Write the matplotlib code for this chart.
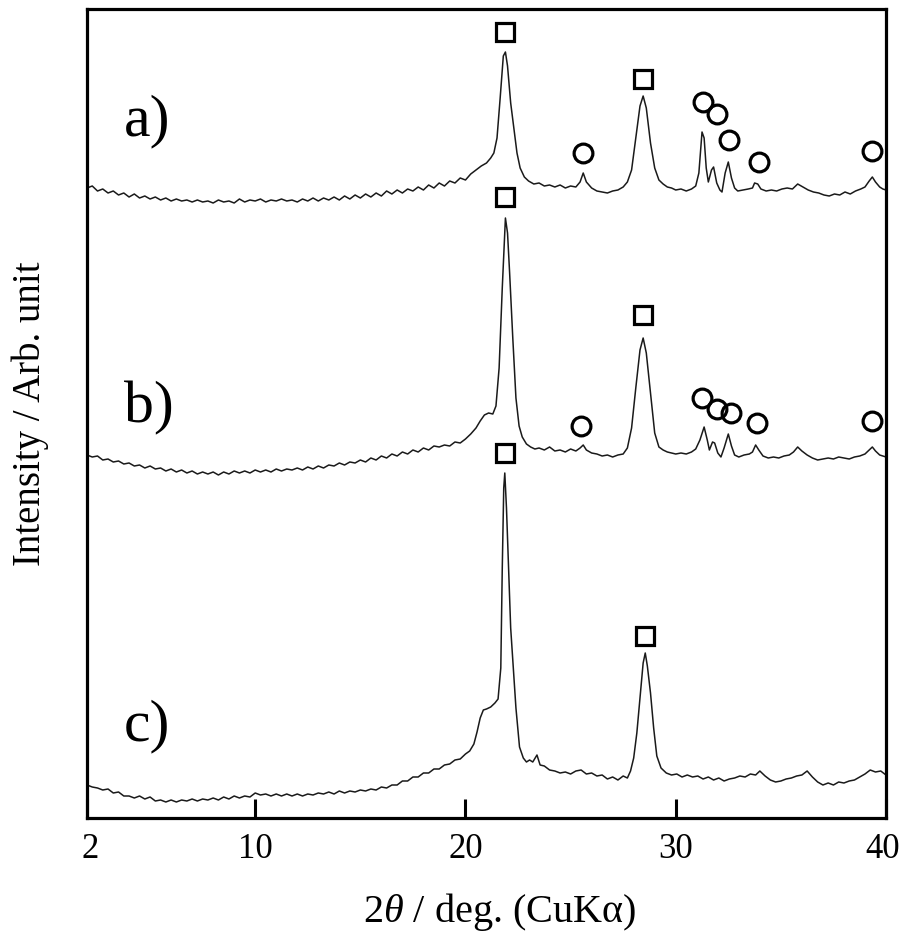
import matplotlib
matplotlib.use("Agg")
import matplotlib.pyplot as plt
from matplotlib.transforms import ScaledTranslation

# ---------------- data ----------------
a_deg = [2.00, 2.25, 2.50, 2.75, 3.00, 3.25, 3.50, 3.75, 4.00, 4.25, 4.50, 4.75,
         5.00, 5.25, 5.50, 5.75, 6.00, 6.25, 6.50, 6.75, 7.00, 7.25, 7.50, 7.75,
         8.00, 8.25, 8.50, 8.75, 9.00, 9.25, 9.50, 9.75, 10.00, 10.25, 10.50, 10.75,
         11.00, 11.25, 11.50, 11.75, 12.00, 12.25, 12.50, 12.75, 13.00, 13.25, 13.50, 13.75,
         14.00, 14.25, 14.50, 14.75, 15.00, 15.25, 15.50, 15.75, 16.00, 16.25, 16.50, 16.75,
         17.00, 17.25, 17.50, 17.75, 18.00, 18.25, 18.50, 18.75, 19.00, 19.25, 19.50, 19.75,
         20.00, 20.25, 20.50, 20.75, 21.00, 21.20, 21.35, 21.50, 21.65, 21.80, 21.90, 22.00,
         22.15, 22.30, 22.45, 22.60, 22.80, 23.00, 23.25, 23.50, 23.75, 24.00, 24.25, 24.50,
         24.75, 25.00, 25.25, 25.45, 25.60, 25.75, 26.00, 26.25, 26.50, 26.75, 27.00, 27.25,
         27.50, 27.70, 27.90, 28.10, 28.30, 28.45, 28.60, 28.80, 29.00, 29.20, 29.40, 29.60,
         29.80, 30.00, 30.25, 30.50, 30.75, 30.95, 31.10, 31.25, 31.35, 31.45, 31.55, 31.70,
         31.80, 31.95, 32.10, 32.20, 32.35, 32.50, 32.65, 32.80, 32.95, 33.20, 33.45, 33.65,
         33.75, 33.90, 34.05, 34.30, 34.55, 34.80, 35.05, 35.30, 35.55, 35.80, 36.05, 36.30,
         36.55, 36.80, 37.05, 37.30, 37.55, 37.80, 38.05, 38.30, 38.55, 38.80, 39.00, 39.20,
         39.35, 39.50, 39.70, 39.85, 40.00]
a_int = [630, 632, 627, 629, 625, 627, 623, 625, 621, 624, 620, 622,
         619, 621, 618, 620, 617, 619, 617, 618, 616, 618, 616, 617,
         615, 618, 616, 617, 615, 619, 616, 618, 617, 619, 616, 618,
         617, 619, 617, 618, 616, 619, 617, 620, 617, 620, 618, 621,
         618, 622, 619, 623, 620, 624, 621, 625, 622, 627, 624, 628,
         625, 629, 627, 631, 628, 633, 630, 635, 632, 637, 635, 640,
         638, 644, 648, 652, 655, 660, 665, 680, 720, 762, 766, 752,
         715, 690, 665, 650, 641, 637, 634, 635, 632, 633, 631, 633,
         630, 632, 631, 636, 645, 636, 630, 627, 626, 625, 627, 628,
         631, 636, 648, 680, 712, 722, 710, 675, 650, 638, 634, 631,
         630, 628, 629, 627, 629, 632, 645, 686, 680, 650, 636, 648,
         651, 635, 628, 626, 645, 656, 640, 630, 627, 628, 629, 630,
         635, 634, 629, 627, 628, 627, 629, 630, 629, 634, 631, 628,
         626, 625, 623, 622, 624, 623, 626, 624, 627, 629, 631, 637,
         641, 636, 631, 629, 628]

b_deg = [2.00, 2.25, 2.50, 2.75, 3.00, 3.25, 3.50, 3.75, 4.00, 4.25, 4.50, 4.75,
         5.00, 5.25, 5.50, 5.75, 6.00, 6.25, 6.50, 6.75, 7.00, 7.25, 7.50, 7.75,
         8.00, 8.25, 8.50, 8.75, 9.00, 9.25, 9.50, 9.75, 10.00, 10.25, 10.50, 10.75,
         11.00, 11.25, 11.50, 11.75, 12.00, 12.25, 12.50, 12.75, 13.00, 13.25, 13.50, 13.75,
         14.00, 14.25, 14.50, 14.75, 15.00, 15.25, 15.50, 15.75, 16.00, 16.25, 16.50, 16.75,
         17.00, 17.25, 17.50, 17.75, 18.00, 18.25, 18.50, 18.75, 19.00, 19.25, 19.50, 19.75,
         20.00, 20.25, 20.50, 20.70, 20.90, 21.10, 21.30, 21.45, 21.60, 21.75, 21.90, 22.00,
         22.10, 22.25, 22.40, 22.55, 22.70, 22.90, 23.10, 23.30, 23.50, 23.75, 24.00, 24.25,
         24.50, 24.75, 25.00, 25.25, 25.45, 25.60, 25.75, 26.00, 26.25, 26.50, 26.75, 27.00,
         27.25, 27.50, 27.70, 27.90, 28.10, 28.30, 28.45, 28.60, 28.80, 29.00, 29.20, 29.40,
         29.60, 29.80, 30.00, 30.25, 30.50, 30.75, 30.95, 31.15, 31.35, 31.50, 31.60, 31.75,
         31.85, 32.00, 32.15, 32.30, 32.50, 32.65, 32.80, 33.00, 33.25, 33.50, 33.65, 33.80,
         33.95, 34.15, 34.40, 34.65, 34.90, 35.15, 35.40, 35.60, 35.80, 36.00, 36.25, 36.50,
         36.75, 37.00, 37.25, 37.50, 37.75, 38.00, 38.25, 38.50, 38.75, 39.00, 39.20, 39.35,
         39.50, 39.70, 39.85, 40.00]
b_int = [363, 361, 362, 358, 359, 356, 357, 354, 355, 352, 353, 350,
         352, 349, 350, 347, 349, 346, 348, 345, 347, 344, 346, 344,
         346, 343, 346, 344, 347, 345, 347, 345, 348, 346, 348, 346,
         349, 347, 349, 348, 350, 348, 351, 349, 352, 350, 353, 352,
         355, 353, 356, 355, 358, 356, 360, 358, 362, 360, 364, 362,
         366, 364, 368, 366, 370, 368, 372, 371, 373, 372, 376, 375,
         379, 384, 390, 397, 403, 405, 404, 412, 450, 530, 600, 585,
         545, 480, 420, 392, 381, 374, 371, 369, 370, 368, 371, 367,
         368, 366, 369, 367, 370, 373, 368, 365, 364, 362, 363, 361,
         363, 364, 370, 390, 430, 468, 480, 465, 425, 385, 371, 368,
         366, 365, 364, 365, 364, 366, 369, 378, 391, 378, 368, 376,
         375, 365, 361, 370, 384, 372, 363, 361, 363, 364, 366, 373,
         368, 362, 360, 361, 360, 362, 363, 366, 371, 367, 363, 360,
         358, 359, 360, 359, 361, 360, 359, 361, 362, 364, 368, 371,
         367, 363, 362, 361]

c_deg = [2.00, 2.25, 2.50, 2.75, 3.00, 3.25, 3.50, 3.75, 4.00, 4.25, 4.50, 4.75,
         5.00, 5.25, 5.50, 5.75, 6.00, 6.25, 6.50, 6.75, 7.00, 7.25, 7.50, 7.75,
         8.00, 8.25, 8.50, 8.75, 9.00, 9.25, 9.50, 9.75, 10.00, 10.25, 10.50, 10.75,
         11.00, 11.25, 11.50, 11.75, 12.00, 12.25, 12.50, 12.75, 13.00, 13.25, 13.50, 13.75,
         14.00, 14.25, 14.50, 14.75, 15.00, 15.25, 15.50, 15.75, 16.00, 16.25, 16.50, 16.75,
         17.00, 17.25, 17.50, 17.75, 18.00, 18.25, 18.50, 18.75, 19.00, 19.25, 19.50, 19.75,
         20.00, 20.20, 20.40, 20.55, 20.70, 20.85, 21.00, 21.20, 21.40, 21.55, 21.68, 21.75,
         21.82, 21.87, 21.95, 22.05, 22.15, 22.25, 22.40, 22.57, 22.75, 22.90, 23.05, 23.20,
         23.40, 23.55, 23.75, 24.00, 24.25, 24.50, 24.75, 25.00, 25.25, 25.50, 25.75, 26.00,
         26.25, 26.50, 26.75, 27.00, 27.25, 27.50, 27.70, 27.85, 28.00, 28.15, 28.30, 28.45,
         28.55, 28.65, 28.80, 28.95, 29.10, 29.30, 29.55, 29.80, 30.05, 30.30, 30.55, 30.80,
         31.05, 31.30, 31.55, 31.80, 32.05, 32.30, 32.55, 32.80, 33.05, 33.30, 33.55, 33.80,
         34.00, 34.25, 34.50, 34.75, 35.00, 35.25, 35.50, 35.75, 36.00, 36.25, 36.50, 36.75,
         37.00, 37.25, 37.50, 37.75, 38.00, 38.25, 38.50, 38.75, 39.00, 39.25, 39.50, 39.75,
         40.00]
c_int = [33, 31, 30, 28, 29, 25, 26, 22, 22, 20, 22, 19,
         21, 17, 18, 16, 18, 16, 18, 17, 19, 17, 19, 18,
         20, 18, 21, 19, 22, 20, 22, 21, 25, 23, 24, 22,
         24, 22, 24, 22, 24, 22, 24, 23, 25, 24, 26, 24,
         27, 25, 27, 26, 28, 27, 29, 28, 31, 30, 33, 33,
         37, 37, 41, 41, 45, 45, 49, 49, 53, 54, 58, 59,
         64, 67, 74, 86, 100, 108, 109, 111, 115, 119, 150, 250,
         330, 345, 310, 250, 190, 158, 110, 71, 60, 56, 58, 56,
         63, 53, 52, 48, 47, 45, 46, 44, 47, 48, 44, 45,
         42, 43, 39, 41, 38, 42, 40, 47, 60, 85, 120, 155,
         165, 152, 125, 90, 62, 50, 45, 43, 44, 41, 43, 41,
         42, 39, 41, 38, 40, 37, 39, 40, 42, 41, 44, 43,
         47, 42, 38, 36, 37, 39, 40, 42, 43, 47, 41, 36,
         33, 35, 33, 36, 35, 37, 38, 41, 44, 48, 46, 47,
         43]

# peak markers (square / circle) per pattern
sq_a_x = [21.9, 28.45]
sq_a_y = [786, 739]
ci_a_x = [25.6, 31.3, 31.95, 32.55, 33.95, 39.35]
ci_a_y = [665, 716, 704, 678, 656, 667]
sq_b_x = [21.9, 28.45]
sq_b_y = [621, 503]
ci_b_x = [25.5, 31.25, 31.95, 32.65, 33.85, 39.35]
ci_b_y = [392, 420, 409, 405, 395, 397]
sq_c_x = [21.9, 28.55]
sq_c_y = [365, 182]

labels = ["a)", "b)", "c)"]
label_y = [683, 396, 78]
xticks = [2, 10, 20, 30, 40]
xlabel = r"2$\theta$ / deg. (CuKα)"
ylabel = "Intensity / Arb. unit"

# ---------------- figure ----------------
plt.rcParams["font.family"] = ["Liberation Serif", "DejaVu Serif"]
plt.rcParams["mathtext.fontset"] = "custom"
plt.rcParams["mathtext.rm"] = "Liberation Serif"
plt.rcParams["mathtext.it"] = "Liberation Serif:italic"

fig = plt.figure(figsize=(9.01, 9.43), dpi=100)
ax = fig.add_axes([87 / 901, 1 - 818 / 943, 799 / 901, 809 / 943])

line_kw = dict(color="#1a1a1a", lw=1.1)
ax.plot(a_deg, a_int, **line_kw)
ax.plot(b_deg, b_int, **line_kw)
ax.plot(c_deg, c_int, **line_kw)

sq_kw = dict(ls="none", marker="s", ms=13, mfc="white", mec="black", mew=2.3, zorder=5)
ci_kw = dict(ls="none", marker="o", ms=13.5, mfc="none", mec="black", mew=2.3, zorder=5)
ax.plot(sq_a_x, sq_a_y, **sq_kw)
ax.plot(sq_b_x, sq_b_y, **sq_kw)
ax.plot(sq_c_x, sq_c_y, **sq_kw)
ax.plot(ci_a_x, ci_a_y, **ci_kw)
ax.plot(ci_b_x, ci_b_y, **ci_kw)

for lab, ly in zip(labels, label_y):
    ax.text(3.75, ly, lab, fontsize=43, ha="left", va="baseline")

ax.set_xlim(2, 40)
ax.set_ylim(0, 809)
ax.set_xticks(xticks)
ax.set_xticklabels([str(t) for t in xticks])
ax.set_yticks([])
ax.tick_params(axis="x", direction="in", length=14, width=2.2, pad=11, labelsize=25)
for sp in ax.spines.values():
    sp.set_linewidth(2.3)

# nudge the edge tick labels so they stay inside the figure like the reference
tl = ax.get_xticklabels()
tl[0].set_transform(tl[0].get_transform() + ScaledTranslation(3 / 100, 0, fig.dpi_scale_trans))
tl[-1].set_transform(tl[-1].get_transform() + ScaledTranslation(-3 / 100, 0, fig.dpi_scale_trans))

ax.set_xlabel(xlabel, fontsize=29)
ax.xaxis.set_label_coords(0.517, -0.116)
ax.xaxis.label.set_va("center")
ax.set_ylabel(ylabel, fontsize=28)
ax.yaxis.set_label_coords(-0.071, 0.5)
ax.yaxis.label.set_va("center")

fig.savefig("out.png", dpi=100)
